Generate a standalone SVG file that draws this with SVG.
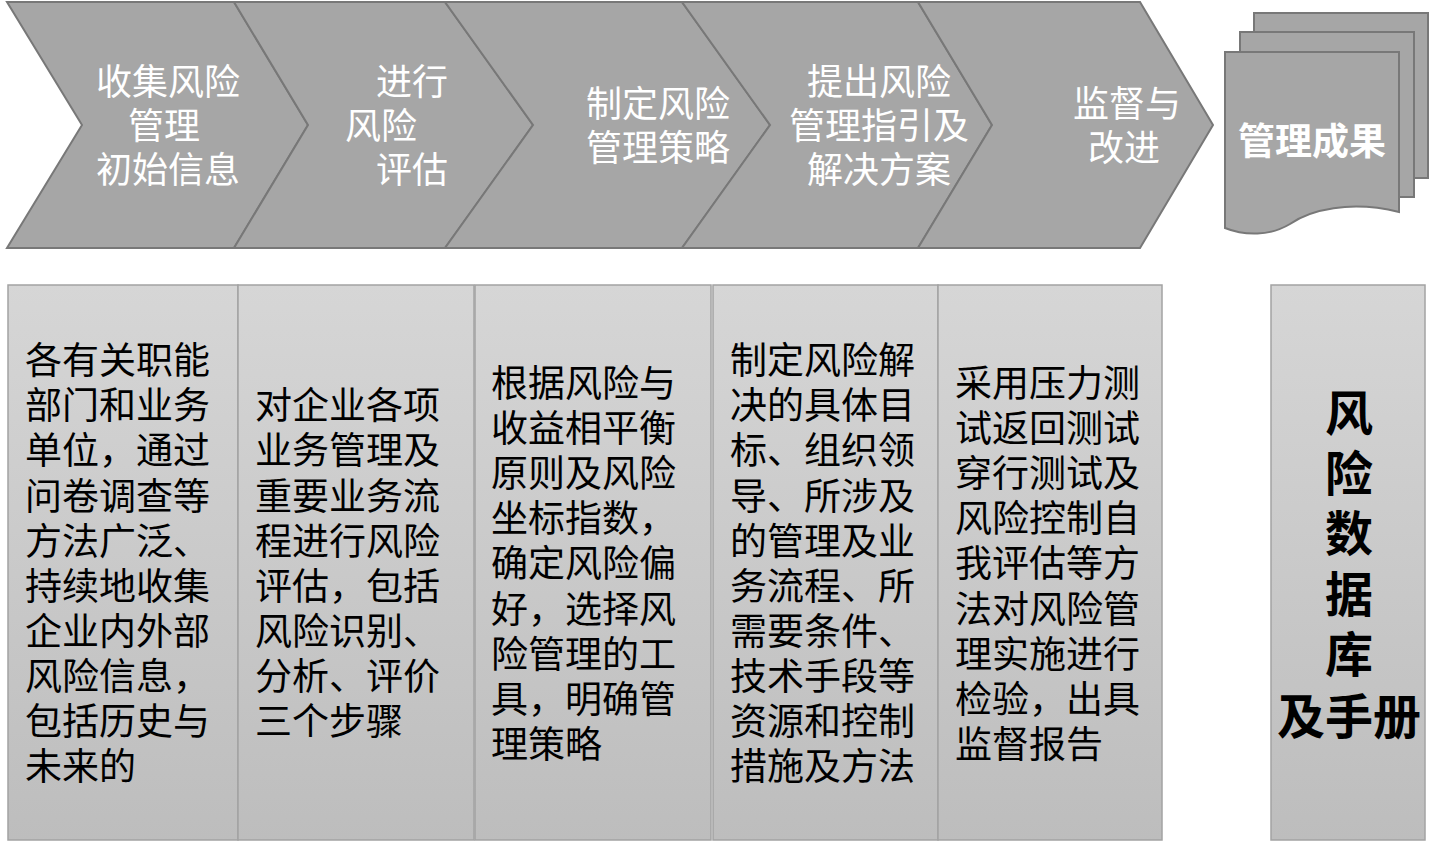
<svg xmlns="http://www.w3.org/2000/svg" width="1455" height="841" viewBox="0 0 1455 841">
  <defs>
    <linearGradient id="boxGrad" x1="0" y1="0" x2="0" y2="1">
      <stop offset="0" stop-color="#d6d6d6"/>
      <stop offset="1" stop-color="#bdbdbd"/>
    </linearGradient>
    <style>
      .chev { fill: #a6a6a6; stroke: #787878; stroke-width: 2; stroke-linejoin: miter; }
      .doc { fill: #a6a6a6; stroke: #787878; stroke-width: 2; }
      .box { fill: url(#boxGrad); stroke: #a3a3a3; stroke-width: 1.5; }
      .wt { font-family: "Noto Sans CJK SC", "Noto Sans", sans-serif; font-size: 36px; fill: #ffffff; }
      .bt { font-family: "Noto Sans CJK SC", "Noto Sans", sans-serif; font-size: 37px; fill: #000000; }
      .big { font-family: "Noto Sans CJK SC", "Noto Sans", sans-serif; font-size: 48px; font-weight: bold; fill: #000000; text-anchor: middle; }
      .res { font-family: "Noto Sans CJK SC", "Noto Sans", sans-serif; font-size: 37px; font-weight: bold; fill: #ffffff; text-anchor: middle; }
    </style>
  </defs>
  <rect width="1455" height="841" fill="#ffffff"/>

  <g id="connectors"></g>

  <g id="step1">
    <polygon class="chev" points="7,2 234,2 308,125 234,248 7,248 82,125"/>
    <text class="wt"><tspan x="96" y="95">收集风险</tspan><tspan x="128" y="139">管理</tspan><tspan x="96" y="183">初始信息</tspan></text>
  </g>
  <g id="step2">
    <polygon class="chev" points="234,2 445,2 533,125 445,248 234,248 308,125"/>
    <text class="wt"><tspan x="376" y="95">进行</tspan><tspan x="345" y="139">风险</tspan><tspan x="376" y="183">评估</tspan></text>
  </g>
  <g id="step3">
    <polygon class="chev" points="445,2 682,2 770,125 682,248 445,248 533,125"/>
    <text class="wt"><tspan x="586" y="117">制定风险</tspan><tspan x="586" y="161">管理策略</tspan></text>
  </g>
  <g id="step4">
    <polygon class="chev" points="682,2 918,2 992,125 918,248 682,248 770,125"/>
    <text class="wt"><tspan x="807" y="95">提出风险</tspan><tspan x="789" y="139">管理指引及</tspan><tspan x="807" y="183">解决方案</tspan></text>
  </g>
  <g id="step5">
    <polygon class="chev" points="918,2 1140,2 1213,125 1140,248 918,248 992,125"/>
    <text class="wt"><tspan x="1073" y="117">监督与</tspan><tspan x="1088" y="161">改进</tspan></text>
  </g>

  <g id="result">
    <rect class="doc" x="1254" y="13" width="174" height="165"/>
    <rect class="doc" x="1240" y="32" width="174" height="165"/>
    <path class="doc" d="M1225,52 H1399 V212 C1350,200 1310,210 1290,224 C1270,236 1245,236 1225,228 Z"/>
    <text class="res" x="1312" y="155">管理成果</text>
  </g>

  <g id="box1">
    <rect class="box" x="8" y="285" width="230" height="555"/>
    <text class="bt"><tspan x="25" y="374">各有关职能</tspan><tspan x="25" y="419">部门和业务</tspan><tspan x="25" y="464">单位，通过</tspan><tspan x="25" y="510">问卷调查等</tspan><tspan x="25" y="555">方法广泛、</tspan><tspan x="25" y="600">持续地收集</tspan><tspan x="25" y="645">企业内外部</tspan><tspan x="25" y="690">风险信息，</tspan><tspan x="25" y="735">包括历史与</tspan><tspan x="25" y="780">未来的</tspan></text>
  </g>
  <g id="box2">
    <rect class="box" x="238" y="285" width="236" height="555"/>
    <text class="bt"><tspan x="255" y="419">对企业各项</tspan><tspan x="255" y="464">业务管理及</tspan><tspan x="255" y="510">重要业务流</tspan><tspan x="255" y="555">程进行风险</tspan><tspan x="255" y="600">评估，包括</tspan><tspan x="255" y="645">风险识别、</tspan><tspan x="255" y="690">分析、评价</tspan><tspan x="255" y="735">三个步骤</tspan></text>
  </g>
  <g id="box3">
    <rect class="box" x="475" y="285" width="236" height="555"/>
    <text class="bt"><tspan x="491" y="397">根据风险与</tspan><tspan x="491" y="442">收益相平衡</tspan><tspan x="491" y="487">原则及风险</tspan><tspan x="491" y="532">坐标指数，</tspan><tspan x="491" y="577">确定风险偏</tspan><tspan x="491" y="623">好，选择风</tspan><tspan x="491" y="668">险管理的工</tspan><tspan x="491" y="713">具，明确管</tspan><tspan x="491" y="758">理策略</tspan></text>
  </g>
  <g id="box4">
    <rect class="box" x="713" y="285" width="225" height="555"/>
    <text class="bt"><tspan x="730" y="374">制定风险解</tspan><tspan x="730" y="419">决的具体目</tspan><tspan x="730" y="464">标、组织领</tspan><tspan x="730" y="510">导、所涉及</tspan><tspan x="730" y="555">的管理及业</tspan><tspan x="730" y="600">务流程、所</tspan><tspan x="730" y="645">需要条件、</tspan><tspan x="730" y="690">技术手段等</tspan><tspan x="730" y="735">资源和控制</tspan><tspan x="730" y="780">措施及方法</tspan></text>
  </g>
  <g id="box5">
    <rect class="box" x="938" y="285" width="224" height="555"/>
    <text class="bt"><tspan x="955" y="397">采用压力测</tspan><tspan x="955" y="442">试返回测试</tspan><tspan x="955" y="487">穿行测试及</tspan><tspan x="955" y="532">风险控制自</tspan><tspan x="955" y="577">我评估等方</tspan><tspan x="955" y="623">法对风险管</tspan><tspan x="955" y="668">理实施进行</tspan><tspan x="955" y="713">检验，出具</tspan><tspan x="955" y="758">监督报告</tspan></text>
  </g>
  <g id="box6">
    <rect class="box" x="1271" y="285" width="154" height="555"/>
    <text class="big"><tspan x="1349" y="431">风</tspan><tspan x="1349" y="491">险</tspan><tspan x="1349" y="551">数</tspan><tspan x="1349" y="612">据</tspan><tspan x="1349" y="672">库</tspan><tspan x="1349" y="734">及手册</tspan></text>
  </g>
</svg>
